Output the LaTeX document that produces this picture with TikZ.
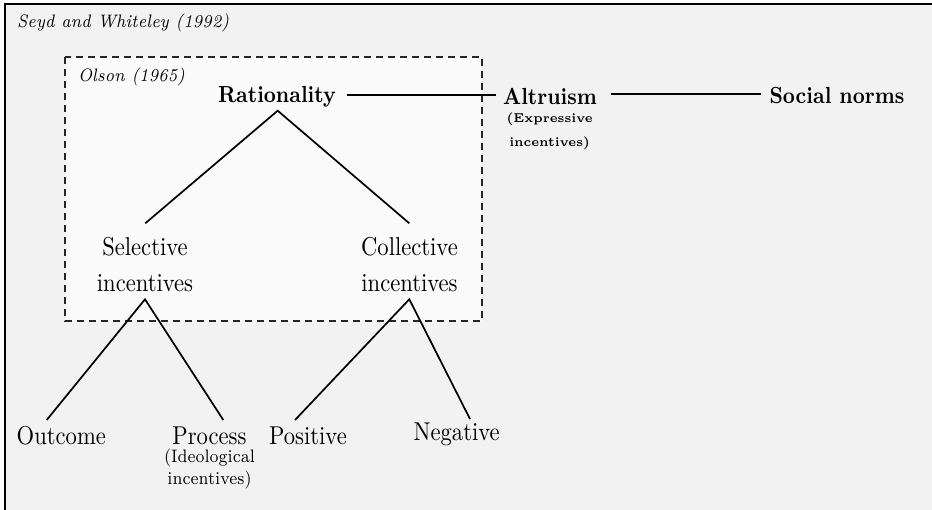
\documentclass[tikz,border=0pt]{standalone}
\usepackage{graphicx}
\newcommand\picscale{2.26}
\newcommand\picvscale{2.58}
\newcommand\scaledtext[1]{\scalebox{\picscale}[\picvscale]{#1}}
\definecolor{outerfill}{HTML}{F2F2F2}
\definecolor{innerfill}{HTML}{FAFAFA}
\tikzset{
  lbl/.style={inner sep=0pt, outer sep=0pt, anchor=base},
  frame/.style={draw=black, line width=1.8pt, fill=outerfill},
  olsonbox/.style={draw=black!85, line width=1.2pt, dash pattern=on 7pt off 5pt, fill=innerfill},
  branch/.style={draw=black, line width=1.7pt},
}
\begin{document}
\begin{tikzpicture}[x=1pt,y=1pt]
\useasboundingbox (0,0) rectangle (932,-509);
\clip (0,0) rectangle (932,-509);
% frames
\draw[frame] (5,-4) rectangle (980,-560);
\draw[olsonbox] (65,-57) rectangle (482,-321);
% frame titles
\node[lbl, anchor=base west] (seyd) at (17,-27) {\scaledtext{\scriptsize\itshape Seyd and Whiteley (1992)}};
\node[lbl, anchor=base west] (olson) at (78,-81) {\scaledtext{\scriptsize\itshape Olson (1965)}};
% top row
\node[lbl] (rat) at (277,-102) {\scaledtext{\small\bfseries Rationality}};
\node[lbl] (alt) at (550,-104) {\scaledtext{\small\bfseries Altruism}};
\node[lbl] (altsub) at (549.6,-122.3) {\scaledtext{\tiny\bfseries\begin{tabular}[t]{@{}c@{}}(Expressive\\[3.19pt]incentives)\end{tabular}}};
\node[lbl] (soc) at (837,-103) {\scaledtext{\small\bfseries Social norms}};
% middle row
\node[lbl] (sel) at (145,-255) {\scaledtext{\begin{tabular}[t]{@{}c@{}}Selective\\[2.22pt]incentives\end{tabular}}};
\node[lbl] (col) at (409.5,-255) {\scaledtext{\begin{tabular}[t]{@{}c@{}}Collective\\[2.22pt]incentives\end{tabular}}};
% bottom row
\node[lbl] (out) at (61.3,-444) {\scaledtext{Outcome}};
\node[lbl] (pro) at (209.5,-444) {\scaledtext{Process}};
\node[lbl] (prosub) at (209.5,-462.7) {\scaledtext{\scriptsize\begin{tabular}[t]{@{}c@{}}(Ideological\\[0.64pt]incentives)\end{tabular}}};
\node[lbl] (pos) at (308,-444) {\scaledtext{Positive}};
\node[lbl] (neg) at (456.7,-440.7) {\scaledtext{Negative}};
% horizontal links
\draw[branch] ([shift={(10.7,7)}]rat.base east) -- ([shift={(-7.3,9)}]alt.base west);
\draw[branch] ([shift={(14,9.7)}]alt.base east) -- ([shift={(-9,8.7)}]soc.base west);
% tree
\draw[branch] ([shift={(0.3,31.7)}]sel.base) -- ([shift={(0.7,-8.7)}]rat.base) -- ([shift={(-0.2,31.7)}]col.base);
\draw[branch] ([shift={(-14.6,24)}]out.base) -- ([yshift=-44.3]sel.base) -- ([shift={(13.8,24)}]pro.base);
\draw[branch] ([shift={(-13,24)}]pos.base) -- ([shift={(-0.2,-44.3)}]col.base) -- ([shift={(13.3,21.7)}]neg.base);
\end{tikzpicture}
\end{document}
